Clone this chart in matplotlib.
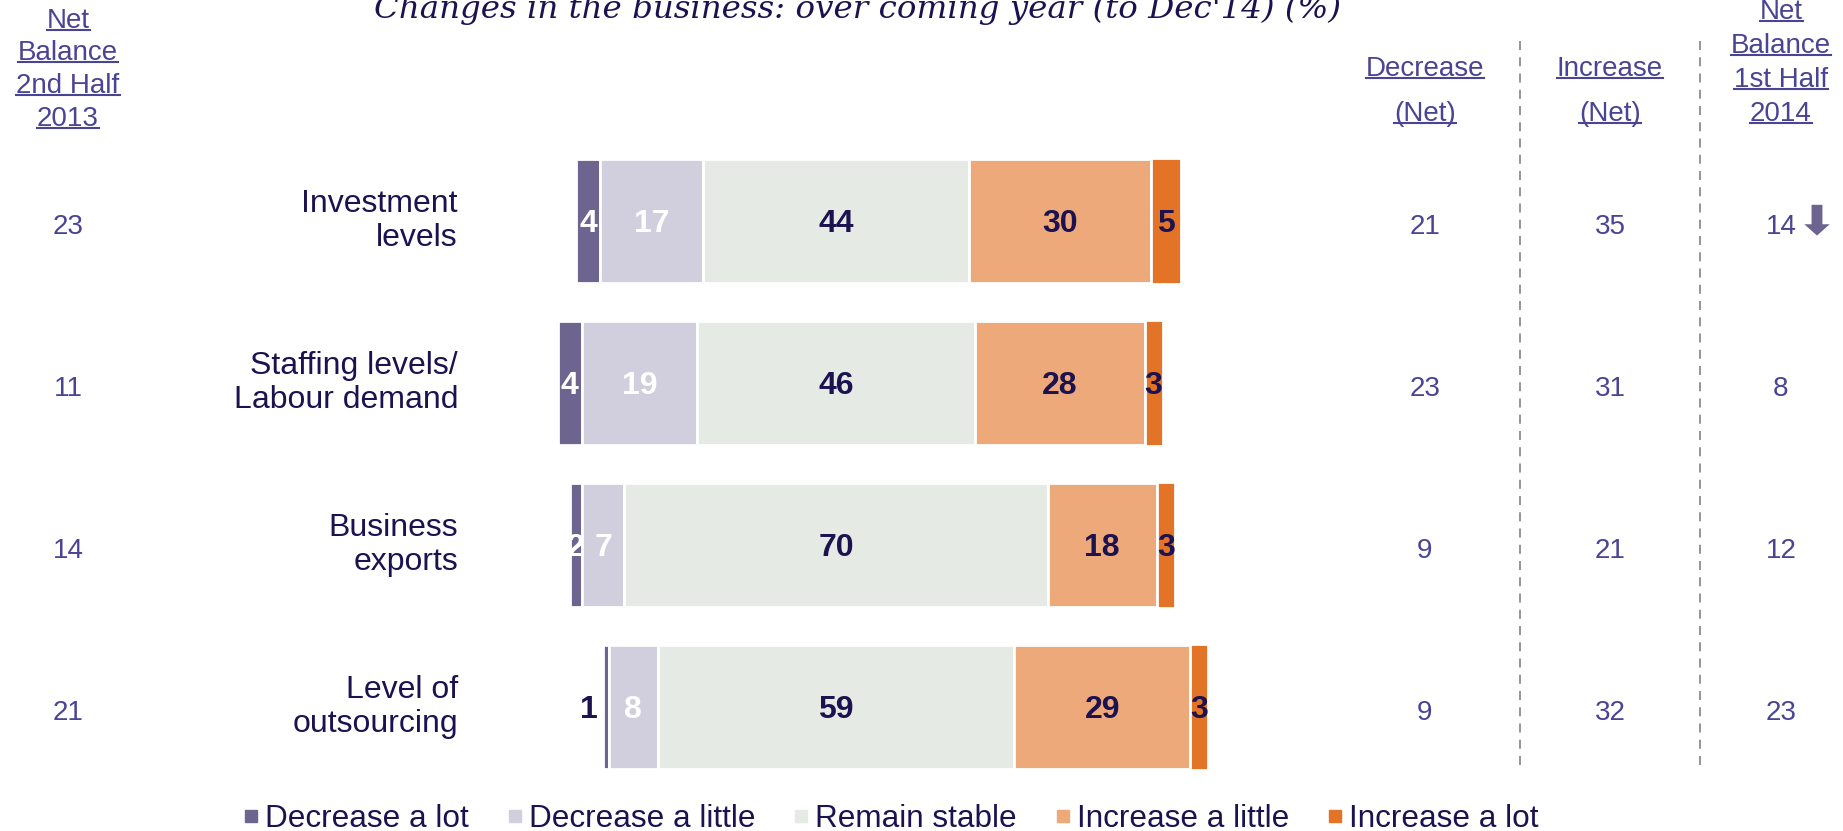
import matplotlib
matplotlib.use("Agg")
import matplotlib.pyplot as plt
from matplotlib.lines import Line2D
from matplotlib.patches import FancyArrow
from matplotlib.transforms import blended_transform_factory
import numpy as np

categories = ["Investment\nlevels", "Staffing levels/\nLabour demand",
              "Business\nexports", "Level of\noutsourcing"]
series = ["Decrease a lot", "Decrease a little", "Remain stable",
          "Increase a little", "Increase a lot"]
decrease_lot = [4, 4, 2, 1]
decrease_little = [17, 19, 7, 8]
remain_stable = [44, 46, 70, 59]
increase_little = [30, 28, 18, 29]
increase_lot = [5, 3, 3, 3]
net_2nd_half_2013 = [23, 11, 14, 21]
decrease_net = [21, 23, 9, 9]
increase_net = [35, 31, 21, 32]
net_1st_half_2014 = [14, 8, 12, 23]

colors = ["#6D6590", "#D1CFDD", "#E5EAE4", "#EEA97A", "#E37326"]
navy = "#1C1250"
colblue = "#4A4494"

W, H = 1843, 831
fig = plt.figure(figsize=(W / 100, H / 100), dpi=100)
ax = fig.add_axes([0, 0, 1, 1])
# 6.05 px per percent, centre of "remain stable" at x=836px
ax.set_xlim(-836 / 6.05, (W - 836) / 6.05)
# rows 162 px apart, first row at y=221px from top
ax.set_ylim((H - 221) / 162, -221 / 162)
ax.axis("off")

def fx(px):
    return px / W

def fy(py):
    return 1 - py / H

data = np.array([decrease_lot, decrease_little, remain_stable,
                 increase_little, increase_lot]).T
rows = np.arange(len(categories))
start = -(data[:, 0] + data[:, 1] + data[:, 2] / 2)

num_font = ["Liberation Sans Narrow", "Liberation Sans", "DejaVu Sans"]
txt_font = ["Liberation Sans", "DejaVu Sans"]

lefts = start.copy()
for j in range(5):
    w = data[:, j]
    h = 0.78 if j == 4 else 0.76
    ax.barh(rows, w, left=lefts, height=h, color=colors[j],
            edgecolor="white", linewidth=2)
    for i in rows:
        if j == 0 and w[i] < 1.5:
            ax.text(lefts[i] - 0.8, i + 0.02, str(w[i]), ha="right", va="center",
                    color=navy, fontsize=23, fontweight="bold", family=num_font)
            continue
        c = "white" if j < 2 else navy
        ax.text(lefts[i] + w[i] / 2, i + 0.02, str(w[i]), ha="center", va="center",
                color=c, fontsize=23, fontweight="bold", family=num_font)
    lefts = lefts + w

# category labels
for i, cat in enumerate(categories):
    ax.text(-836 / 6.05 + 458 / 6.05, i, cat, ha="right", va="center",
            fontsize=23, color=navy, family=txt_font, linespacing=1.15)

# value columns
tr = blended_transform_factory(fig.transFigure, ax.transData)
cols = [(68, net_2nd_half_2013), (1425, decrease_net),
        (1610, increase_net), (1781, net_1st_half_2014)]
for xpx, vals in cols:
    for i, v in enumerate(vals):
        ax.text(fx(xpx), i + 0.04, str(v), transform=tr, ha="center",
                va="center", fontsize=20, color=colblue, family=txt_font)

# down arrow next to first value of last column
ax.add_patch(FancyArrow((1817 - 836) / 6.05, -0.1, 0, 0.19, width=1.8,
                        head_width=4.2, head_length=0.07,
                        length_includes_head=True, color=colors[0], lw=0))

# dashed separators
for xpx in (1520, 1700):
    fig.add_artist(Line2D([fx(xpx), fx(xpx)], [fy(41), fy(766)],
                          color="#8C8C8C", lw=1.3, ls=(0, (5, 4))))

# underlined headers
headers = [
    (68, [(21, "Net"), (53, "Balance"), (86, "2nd Half"), (119, "2013")]),
    (1425, [(69, "Decrease"), (114, "(Net)")]),
    (1610, [(69, "Increase"), (114, "(Net)")]),
    (1781, [(12, "Net"), (46, "Balance"), (80, "1st Half"), (114, "2014")]),
]
htexts = []
for xpx, lines in headers:
    for ypx, s in lines:
        htexts.append(fig.text(fx(xpx), fy(ypx), s, ha="center", va="center",
                               fontsize=20, color=colblue, family=txt_font))

fig.text(fx(858), fy(18), "Changes in the business: over coming year (to Dec'14) (%)",
         ha="center", va="baseline", fontsize=23.4, style="italic",
         color=navy, family=["DejaVu Serif"])

handles = [Line2D([], [], marker="s", ls="", color=c, markersize=9) for c in colors]
fig.legend(handles, series, loc="center", bbox_to_anchor=(fx(890), fy(819)),
           ncol=5, frameon=False, handletextpad=0.15, columnspacing=1.15,
           handlelength=0.6, labelcolor=navy,
           prop={"family": txt_font, "size": 22.7})

fig.canvas.draw()
r = fig.canvas.get_renderer()
for t in htexts:
    bb = t.get_window_extent(r)
    yl = (bb.y0 + 4) / H
    fig.add_artist(Line2D([bb.x0 / W, bb.x1 / W], [yl, yl], color=colblue, lw=1.5))

fig.savefig("out.png", dpi=100)
